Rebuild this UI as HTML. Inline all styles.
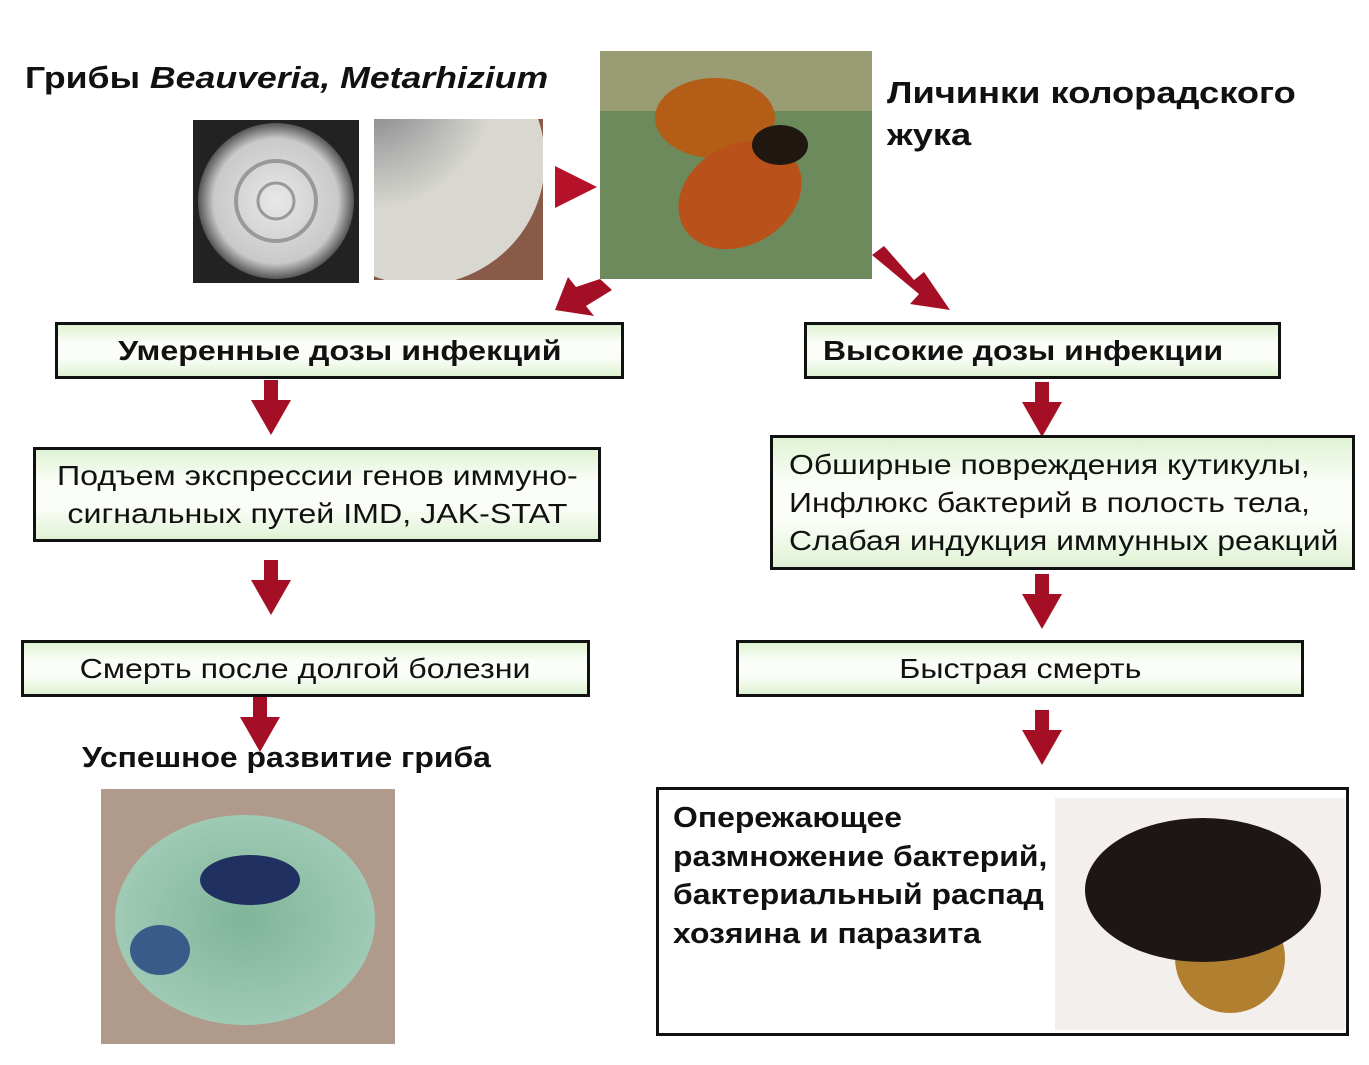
<!DOCTYPE html>
<html><head><meta charset="utf-8"><style>
body{margin:0;width:1369px;height:1065px;background:#fff;position:relative;overflow:hidden;font-family:"Liberation Sans",sans-serif;color:#111}
.a{position:absolute}
.box{position:absolute;border:3px solid #111;box-sizing:border-box;background:linear-gradient(#dff2d3,#fbfef8 35%,#fbfef8 65%,#dff2d3);display:flex;align-items:center;justify-content:center;font-size:28px;line-height:38px;text-align:center}
.b{font-weight:bold}
.s{display:inline-block;transform:scaleX(1.15);transform-origin:center}
.sl{display:inline-block;transform:scaleX(1.14);transform-origin:left}
</style></head><body>
<svg class="a" style="left:0;top:0" width="1369" height="1065">
<defs>
<radialGradient id="p1"><stop offset="0" stop-color="#e8e8e8"/><stop offset=".8" stop-color="#c9c9c9"/><stop offset="1" stop-color="#555"/></radialGradient>
<radialGradient id="p2" cx=".3" cy=".2"><stop offset="0" stop-color="#777"/><stop offset=".5" stop-color="#aaa"/><stop offset="1" stop-color="#d8d8d0"/></radialGradient>
<radialGradient id="g1"><stop offset="0" stop-color="#7fb59a"/><stop offset="1" stop-color="#9fcab5"/></radialGradient>
<clipPath id="c2"><rect x="374" y="119" width="169" height="161"/></clipPath>
<g id="ad" fill="#a50f26"><rect x="-7" y="0" width="14" height="20"/><polygon points="-20,20 20,20 0,55"/></g>
</defs>
<rect x="193" y="120" width="166" height="163" fill="#222"/>
<circle cx="276" cy="201" r="78" fill="url(#p1)"/>
<circle cx="276" cy="201" r="40" fill="none" stroke="#999" stroke-width="4"/>
<circle cx="276" cy="201" r="18" fill="none" stroke="#999" stroke-width="3"/>
<rect x="374" y="119" width="169" height="161" fill="#8a5a48"/>
<circle cx="420" cy="160" r="125" fill="url(#p2)" clip-path="url(#c2)"/>
<rect x="600" y="51" width="272" height="228" fill="#6d8a5c"/>
<rect x="600" y="51" width="272" height="60" fill="#b9a983" opacity=".6"/>
<ellipse cx="715" cy="118" rx="60" ry="40" fill="#b45d17"/>
<ellipse cx="740" cy="195" rx="65" ry="50" transform="rotate(-30 740 195)" fill="#b9521a"/>
<ellipse cx="780" cy="145" rx="28" ry="20" fill="#201810"/>
<rect x="101" y="789" width="294" height="255" fill="#b09a8c"/>
<ellipse cx="245" cy="920" rx="130" ry="105" fill="url(#g1)"/>
<ellipse cx="250" cy="880" rx="50" ry="25" fill="#203060"/>
<ellipse cx="160" cy="950" rx="30" ry="25" fill="#3a5a8a"/>
<polygon points="555,166 597,187 555,208" fill="#b5122a"/>
<g fill="#a50f26">
<polygon points="600,279 612,290 586,306 594,316 555,310 568,277 576,287"/>
<polygon points="872,255 884,246 914,280 924,272 950,310 910,304 919,294"/>
</g>
<use href="#ad" x="271" y="380"/>
<use href="#ad" x="271" y="560"/>
<use href="#ad" x="260" y="697"/>
<use href="#ad" x="1042" y="382"/>
<use href="#ad" x="1042" y="574"/>
<use href="#ad" x="1042" y="710"/>
</svg>
<div class="a b" style="left:25px;top:60px;font-size:31px"><span class="sl" style="transform:scaleX(1.15)">Грибы <i>Beauveria, Metarhizium</i></span></div>
<div class="a b" style="left:887px;top:72px;font-size:31px;line-height:42px"><span class="sl" style="transform:scaleX(1.17)">Личинки колорадского<br>жука</span></div>
<div class="box b" style="left:55px;top:322px;width:569px;height:57px"><span class="s">Умеренные дозы инфекций</span></div>
<div class="box b" style="left:804px;top:322px;width:477px;height:57px;justify-content:flex-start;padding-left:16px"><span class="sl">Высокие дозы инфекции</span></div>
<div class="box" style="left:33px;top:447px;width:568px;height:95px"><span class="s">Подъем экспрессии генов иммуно-<br>сигнальных путей IMD, JAK-STAT</span></div>
<div class="box" style="left:770px;top:435px;width:585px;height:135px;justify-content:flex-start;text-align:left;padding-left:16px"><span class="sl">Обширные повреждения кутикулы,<br>Инфлюкс бактерий в полость тела,<br>Слабая индукция иммунных реакций</span></div>
<div class="box" style="left:21px;top:640px;width:569px;height:57px"><span class="s">Смерть после долгой болезни</span></div>
<div class="box" style="left:736px;top:640px;width:568px;height:57px"><span class="s">Быстрая смерть</span></div>
<div class="a b" style="left:82px;top:742px;font-size:29px"><span class="sl" style="transform:scaleX(1.1)">Успешное развитие гриба</span></div>
<div class="a" style="left:656px;top:787px;width:693px;height:249px;border:3px solid #111;box-sizing:border-box;background:#fff"></div>
<svg class="a" style="left:1055px;top:798px" width="290" height="232"><rect width="290" height="232" fill="#f2efec"/><ellipse cx="175" cy="160" rx="55" ry="55" fill="#b08030"/><ellipse cx="148" cy="92" rx="118" ry="72" fill="#1e1614"/></svg>
<div class="a b" style="left:673px;top:799px;font-size:29px;line-height:38.5px"><span class="sl" style="transform:scaleX(1.1)">Опережающее<br>размножение бактерий,<br>бактериальный распад<br>хозяина и паразита</span></div>
</body></html>
